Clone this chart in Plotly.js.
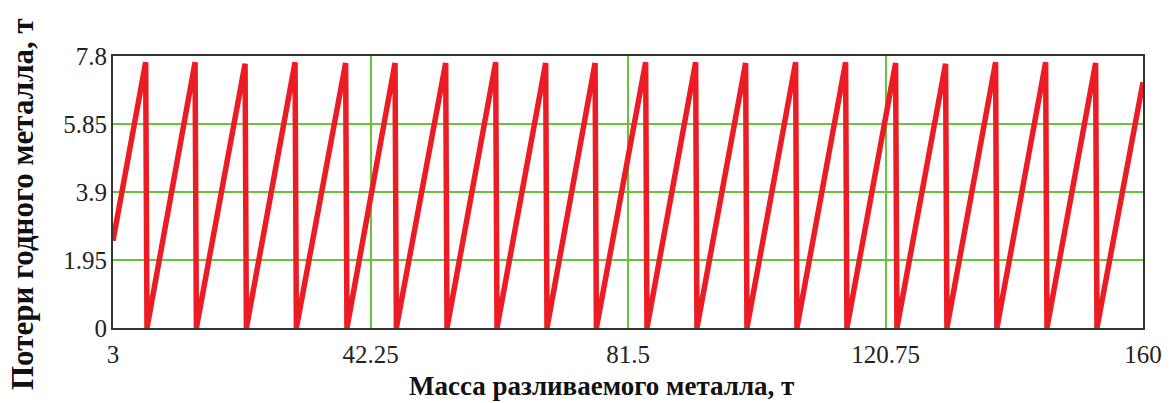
<!DOCTYPE html>
<html>
<head>
<meta charset="utf-8">
<script src="https://cdn.plot.ly/plotly-3.0.1.min.js"></script>
<style>html,body{margin:0;padding:0;background:#fff;}#chart{width:1173px;height:403px;}</style>
</head>
<body>
<div id="chart"></div>
<script>
// Vertices of the loss curve (mass, t -> loss, t)
const massT = [3, 7.98, 8.18, 15.51, 15.71, 23.13, 23.33, 30.75, 30.95, 38.46, 38.66,
  45.99, 46.19, 53.71, 53.91, 61.33, 61.53, 68.95, 69.15, 76.48, 76.68,
  84.19, 84.39, 91.81, 92.01, 99.43, 99.63, 107.05, 107.25, 114.67, 114.87,
  122.29, 122.49, 129.91, 130.11, 137.53, 137.73, 145.16, 145.36, 152.78, 152.98, 160];
const lossT = [2.5, 7.62, 0, 7.62, 0, 7.58, 0, 7.62, 0, 7.6, 0,
  7.6, 0, 7.6, 0, 7.62, 0, 7.6, 0, 7.6, 0,
  7.62, 0, 7.62, 0, 7.6, 0, 7.62, 0, 7.62, 0,
  7.6, 0, 7.58, 0, 7.62, 0, 7.62, 0, 7.6, 0, 7.05];
const xTicks = [3, 42.25, 81.5, 120.75, 160];
const xTickText = ["3", "42.25", "81.5", "120.75", "160"];
const yTicks = [0, 1.95, 3.9, 5.85, 7.8];
const yTickText = ["0", "1.95", "3.9", "5.85", "7.8"];
const xTitle = "Масса разливаемого металла, т";
const yTitle = "Потери годного металла, т";

const serif = "Liberation Serif, Times New Roman, serif";

Plotly.newPlot("chart", [{
  x: massT, y: lossT, type: "scatter", mode: "lines",
  line: {color: "#ec1c24", width: 5.5},
  hoverinfo: "skip", showlegend: false
}], {
  width: 1173, height: 403,
  margin: {l: 113, r: 30, t: 56, b: 75},
  paper_bgcolor: "#fff", plot_bgcolor: "#fff",
  xaxis: {
    range: [3, 160], tickvals: xTicks, ticktext: xTickText,
    showgrid: true, gridcolor: "#66c43c", gridwidth: 2,
    zeroline: false, showline: true, mirror: true, linecolor: "#333", linewidth: 2,
    ticks: "", ticklabelstandoff: 3,
    tickfont: {family: serif, size: 25, color: "#222"}
  },
  yaxis: {
    range: [0, 7.8], tickvals: yTicks, ticktext: yTickText,
    showgrid: true, gridcolor: "#66c43c", gridwidth: 2,
    zeroline: false, showline: true, mirror: true, linecolor: "#333", linewidth: 2,
    ticks: "", ticklabelstandoff: -1,
    tickfont: {family: serif, size: 25, color: "#222"}
  },
  annotations: [
    {text: xTitle, xref: "paper", yref: "paper", x: 0.474, y: -0.214, xanchor: "center", yanchor: "middle",
     showarrow: false, font: {family: serif, size: 27, color: "#111", weight: "bold"}},
    {text: yTitle, xref: "paper", yref: "paper", x: -0.088, y: 0.457, xanchor: "center", yanchor: "middle",
     textangle: -90, showarrow: false, font: {family: serif, size: 31, color: "#111", weight: "bold"}}
  ]
}, {staticPlot: true, displayModeBar: false});
</script>
</body>
</html>
